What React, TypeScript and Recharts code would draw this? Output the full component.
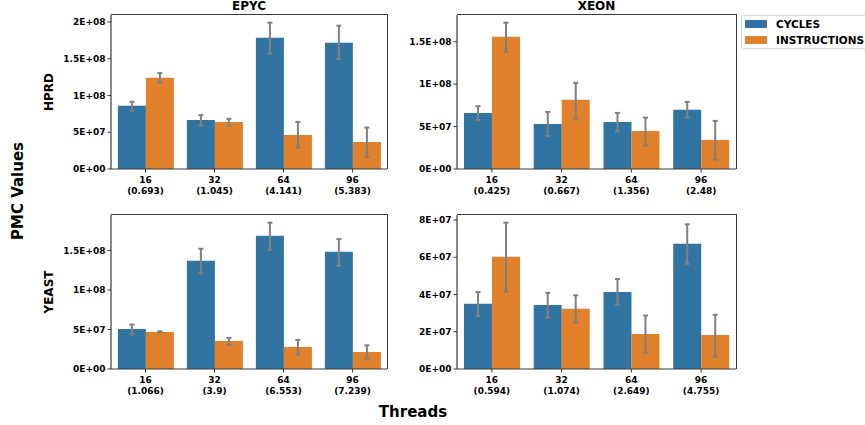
import React from 'react';
import { BarChart, Bar, XAxis, YAxis, ErrorBar } from 'recharts';

const threads = ['16', '32', '64', '96'];
const seriesNames = ['CYCLES', 'INSTRUCTIONS'];
const seriesColors = ['#3274a1', '#e1812c'];

// EPYC / HPRD
const epycHprdSpeedup = ['0.693', '1.045', '4.141', '5.383'];
const epycHprdCycles = [0.86e8, 0.668e8, 1.787e8, 1.719e8];
const epycHprdCyclesLo = [0.795e8, 0.591e8, 1.573e8, 1.495e8];
const epycHprdCyclesHi = [0.914e8, 0.732e8, 1.991e8, 1.95e8];
const epycHprdInstr = [1.242e8, 0.641e8, 0.464e8, 0.368e8];
const epycHprdInstrLo = [1.177e8, 0.591e8, 0.291e8, 0.164e8];
const epycHprdInstrHi = [1.305e8, 0.682e8, 0.641e8, 0.564e8];
const epycHprdTicks = [0, 5e7, 1e8, 1.5e8, 2e8];

// XEON / HPRD
const xeonHprdSpeedup = ['0.425', '0.667', '1.356', '2.48'];
const xeonHprdCycles = [0.661e8, 0.531e8, 0.555e8, 0.697e8];
const xeonHprdCyclesLo = [0.579e8, 0.39e8, 0.445e8, 0.606e8];
const xeonHprdCyclesHi = [0.74e8, 0.673e8, 0.661e8, 0.791e8];
const xeonHprdInstr = [1.559e8, 0.815e8, 0.449e8, 0.343e8];
const xeonHprdInstrLo = [1.382e8, 0.594e8, 0.276e8, 0.11e8];
const xeonHprdInstrHi = [1.724e8, 1.016e8, 0.606e8, 0.567e8];
const xeonHprdTicks = [0, 5e7, 1e8, 1.5e8];

// EPYC / YEAST
const epycYeastSpeedup = ['1.066', '3.9', '6.553', '7.239'];
const epycYeastCycles = [0.507e8, 1.369e8, 1.686e8, 1.483e8];
const epycYeastCyclesLo = [0.439e8, 1.212e8, 1.508e8, 1.305e8];
const epycYeastCyclesHi = [0.562e8, 1.521e8, 1.85e8, 1.643e8];
const epycYeastInstr = [0.469e8, 0.355e8, 0.279e8, 0.215e8];
const epycYeastInstrLo = [0.46e8, 0.304e8, 0.182e8, 0.131e8];
const epycYeastInstrHi = [0.477e8, 0.393e8, 0.368e8, 0.3e8];
const epycYeastTicks = [0, 5e7, 1e8, 1.5e8];

// XEON / YEAST
const xeonYeastSpeedup = ['0.594', '1.074', '2.649', '4.755'];
const xeonYeastCycles = [3.5e7, 3.44e7, 4.14e7, 6.73e7];
const xeonYeastCyclesLo = [2.83e7, 2.76e7, 3.46e7, 5.65e7];
const xeonYeastCyclesHi = [4.13e7, 4.09e7, 4.83e7, 7.77e7];
const xeonYeastInstr = [6.03e7, 3.23e7, 1.88e7, 1.83e7];
const xeonYeastInstrLo = [4.16e7, 2.49e7, 0.88e7, 0.66e7];
const xeonYeastInstrHi = [7.86e7, 3.96e7, 2.87e7, 2.91e7];
const xeonYeastTicks = [0, 2e7, 4e7, 6e7, 8e7];

const FONT = '"DejaVu Sans", Verdana, sans-serif';
const SPINE = '#3a3a3a';
const ERR = '#808080';

const sci = (v: number) => {
  const [m, e] = v.toExponential().split('e');
  const n = Number(e);
  return `${m}E${n < 0 ? '-' : '+'}${String(Math.abs(n)).padStart(2, '0')}`;
};

const build = (
  cyc: number[], cycLo: number[], cycHi: number[],
  ins: number[], insLo: number[], insHi: number[]
) =>
  threads.map((t, i) => ({
    thread: t,
    cycles: cyc[i],
    cyclesErr: [cyc[i] - cycLo[i], cycHi[i] - cyc[i]],
    instructions: ins[i],
    instructionsErr: [ins[i] - insLo[i], insHi[i] - ins[i]],
  }));

const ThreadTick = (props: any) => {
  const { x, y, payload, speedup } = props;
  return (
    <text x={x} y={y} textAnchor="middle" fontFamily={FONT} fontWeight="bold" fontSize={9} fill="#000">
      <tspan x={x} dy={9}>{payload.value}</tspan>
      <tspan x={x} dy={11.3}>({speedup[payload.index]})</tspan>
    </text>
  );
};

type PanelProps = {
  plotLeft: number;
  plotTop: number;
  plotW: number;
  plotH: number;
  data: any[];
  speedup: string[];
  ticks: number[];
  yMax: number;
};

const Y_W = 60;
const X_H = 36;

const Panel = ({ plotLeft, plotTop, plotW, plotH, data, speedup, ticks, yMax }: PanelProps) => (
  <div style={{ position: 'absolute', left: plotLeft - Y_W, top: plotTop - 1 }}>
    <BarChart
      width={Y_W + plotW + 1}
      height={1 + plotH + X_H}
      data={data}
      margin={{ top: 1, right: 1, left: 0, bottom: 0 }}
      barCategoryGap="10%"
      barGap={0}
    >
      <XAxis
        dataKey="thread"
        height={X_H}
        tickSize={3.5}
        tickMargin={1}
        stroke={SPINE}
        axisLine={{ stroke: SPINE, strokeWidth: 1.2 }}
        tickLine={{ stroke: SPINE }}
        interval={0}
        tick={(p: any) => <ThreadTick {...p} speedup={speedup} />}
      />
      <YAxis
        width={Y_W}
        domain={[0, yMax]}
        ticks={ticks}
        tickFormatter={sci}
        tickSize={3.5}
        tickMargin={2}
        allowDataOverflow
        axisLine={{ stroke: SPINE, strokeWidth: 1.2 }}
        tickLine={{ stroke: SPINE }}
        tick={{ fontFamily: FONT, fontWeight: 'bold', fontSize: 9, fill: '#000' }}
      />
      <Bar dataKey="cycles" fill={seriesColors[0]} isAnimationActive={false}>
        <ErrorBar dataKey="cyclesErr" width={2.5} stroke={ERR} strokeWidth={2} direction="y" />
      </Bar>
      <Bar dataKey="instructions" fill={seriesColors[1]} isAnimationActive={false}>
        <ErrorBar dataKey="instructionsErr" width={2.5} stroke={ERR} strokeWidth={2} direction="y" />
      </Bar>
    </BarChart>
    {/* top and right spines of the axes box */}
    <div
      style={{
        position: 'absolute', left: Y_W, top: 0.4, width: plotW, height: plotH,
        borderTop: `1.2px solid ${SPINE}`, borderRight: `1.2px solid ${SPINE}`,
        boxSizing: 'content-box', pointerEvents: 'none',
      }}
    />
  </div>
);

const App = () => {
  const epycHprd = build(epycHprdCycles, epycHprdCyclesLo, epycHprdCyclesHi, epycHprdInstr, epycHprdInstrLo, epycHprdInstrHi);
  const xeonHprd = build(xeonHprdCycles, xeonHprdCyclesLo, xeonHprdCyclesHi, xeonHprdInstr, xeonHprdInstrLo, xeonHprdInstrHi);
  const epycYeast = build(epycYeastCycles, epycYeastCyclesLo, epycYeastCyclesHi, epycYeastInstr, epycYeastInstrLo, epycYeastInstrHi);
  const xeonYeast = build(xeonYeastCycles, xeonYeastCyclesLo, xeonYeastCyclesHi, xeonYeastInstr, xeonYeastInstrLo, xeonYeastInstrHi);

  return (
    <div style={{ position: 'relative', width: 865, height: 425, background: '#fff', overflow: 'hidden', fontFamily: FONT }}>
      <style>{'body{margin:0}'}</style>
      <svg width={865} height={425} style={{ position: 'absolute', left: 0, top: 0 }}>
        <g fontFamily={FONT} fontWeight="bold" fill="#000">
          <text x={249} y={10} fontSize={12} textAnchor="middle">EPYC</text>
          <text x={596.5} y={10} fontSize={12} textAnchor="middle">XEON</text>
          <text x={52.5} y={92} fontSize={12} textAnchor="middle" transform="rotate(-90 52.5 92)">HPRD</text>
          <text x={52.5} y={292} fontSize={12} textAnchor="middle" transform="rotate(-90 52.5 292)">YEAST</text>
          <text x={22.5} y={191} fontSize={15} textAnchor="middle" transform="rotate(-90 22.5 191)">PMC Values</text>
          <text x={413} y={417} fontSize={15} textAnchor="middle">Threads</text>
        </g>
      </svg>

      <Panel plotLeft={111} plotTop={15} plotW={276} plotH={154} data={epycHprd} speedup={epycHprdSpeedup} ticks={epycHprdTicks} yMax={2.095e8} />
      <Panel plotLeft={457} plotTop={15} plotW={279} plotH={154} data={xeonHprd} speedup={xeonHprdSpeedup} ticks={xeonHprdTicks} yMax={1.815e8} />
      <Panel plotLeft={111} plotTop={215} plotW={276} plotH={154} data={epycYeast} speedup={epycYeastSpeedup} ticks={epycYeastTicks} yMax={1.948e8} />
      <Panel plotLeft={457} plotTop={215} plotW={279} plotH={154} data={xeonYeast} speedup={xeonYeastSpeedup} ticks={xeonYeastTicks} yMax={8.27e7} />

      <div
        style={{
          position: 'absolute', left: 741, top: 15, width: 140, height: 34,
          border: '1px solid #d9d9d9', borderRadius: 3, background: '#fff', boxSizing: 'border-box',
        }}
      >
        {seriesNames.map((name, i) => (
          <div key={name} style={{ position: 'absolute', left: 3, top: 3 + i * 15.5, height: 10, display: 'flex', alignItems: 'center' }}>
            <div style={{ width: 22, height: 8, background: seriesColors[i] }} />
            <span style={{ marginLeft: 9, fontSize: 10.5, fontWeight: 'bold', color: '#000', lineHeight: '10px', whiteSpace: 'nowrap' }}>
              {name}
            </span>
          </div>
        ))}
      </div>
    </div>
  );
};

export default App;
